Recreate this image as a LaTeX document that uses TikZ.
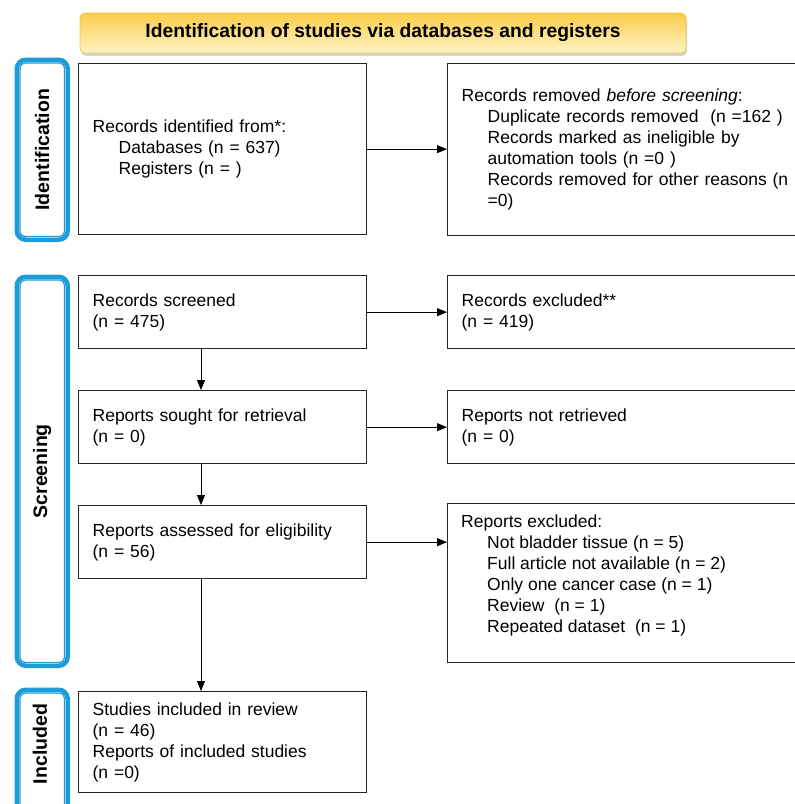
\documentclass[tikz,border=0pt]{standalone}
\usepackage{fontspec}
\setmainfont{Liberation Sans}
\usetikzlibrary{arrows.meta, positioning, shadows}
\definecolor{sideblue}{RGB}{28,156,216}
\definecolor{hdrtop}{RGB}{250,204,72}
\definecolor{hdrbot}{RGB}{255,244,200}
\newcommand{\prfont}{\fontsize{17.5}{21}\selectfont}
\newcommand{\sidefont}{\fontsize{19.5}{22}\selectfont\bfseries}
\newcommand{\ind}{\hspace*{26pt}}
\tikzset{
  prbox/.style={rectangle, draw=black!85, line width=1.3pt, fill=white,
                align=left, inner xsep=14pt, inner ysep=0pt, font=\prfont,
                anchor=north west},
  lbox/.style={prbox, text width=260pt},
  rbox/.style={prbox, text width=335pt},
  prtext/.style={align=left, inner sep=0pt, font=\prfont},
  sidebar/.style={rectangle, rounded corners=9pt, draw=sideblue,
                  line width=4.5pt, fill=white, minimum width=51pt,
                  anchor=north west},
  sideinner/.style={draw=sideblue, line width=1.2pt, rounded corners=5pt},
  sidelabel/.style={rotate=90, font=\sidefont},
  hdrbox/.style={rectangle, rounded corners=5pt, draw=hdrtop!90!orange,
                 line width=0.8pt, top color=hdrtop, bottom color=hdrbot,
                 minimum width=606pt, minimum height=40pt,
                 font=\fontsize{19.3}{22}\selectfont\bfseries,
                 drop shadow={shadow xshift=1pt, shadow yshift=-3pt,
                              opacity=0.35}},
  prarrow/.style={-{Triangle[length=10pt,width=8pt]}, line width=0.8pt},
}
\begin{document}
\begin{tikzpicture}[x=1pt, y=-1pt]
  \clip (0,0) rectangle (795,804);
  % header
  \node[hdrbox] (hdr) at (383,33)
    {Identification of studies via databases and registers};
  % phase bars
  \node[sidebar, minimum height=180pt] (idbar) at (14.5,57.5) {};
  \node[sidebar, minimum height=389pt] (scrbar) at (14.5,274.5) {};
  \node[sidebar, minimum height=140pt] (incbar) at (14.5,687.5) {};
  \foreach \b in {idbar, scrbar, incbar}
    \draw[sideinner] ([shift={(5.5,5.5)}]\b.north west)
      rectangle ([shift={(-5.5,-5.5)}]\b.south east);
  \node[sidelabel] (idlab) at (idbar.center) {Identification};
  \node[sidelabel] (scrlab) at (scrbar.center) {Screening};
  \node[sidelabel] (inclab) at (40,744) {Included};
  % identification
  \node[lbox, minimum height=171pt] (ident) at (78,63)
    {Records identified from*:\\
     \ind Databases (n = 637)\\
     \ind Registers (n = )};
  \node[rbox, minimum height=172pt] (removed) at (447,63)
    {Records removed \textit{before screening}:\\
     \ind Duplicate records removed~~(n =162 )\\
     \ind Records marked as ineligible by\\
     \ind automation tools (n =0 )\\
     \ind Records removed for other reasons (n\\
     \ind =0)};
  % screening
  \node[lbox, minimum height=73pt] (screened) at (78,275)
    {Records screened\\(n = 475)};
  \node[rbox, minimum height=73pt] (excluded) at (447,275)
    {Records excluded**\\(n = 419)};
  \node[lbox, minimum height=73pt] (sought) at (78,390)
    {Reports sought for retrieval\\(n = 0)};
  \node[rbox, minimum height=73pt] (notret) at (447,390)
    {Reports not retrieved\\(n = 0)};
  \node[lbox, minimum height=73pt] (assessed) at (78,505)
    {Reports assessed for eligibility\\(n = 56)};
  \node[rbox, minimum height=159pt] (exclrep) at (447,503) {};
  \node[prtext, anchor=north west] (exclreptxt)
    at ([shift={(14,12)}]exclrep.north west)
    {Reports excluded:\\
     \ind Not bladder tissue (n = 5)\\
     \ind Full article not available (n = 2)\\
     \ind Only one cancer case (n = 1)\\
     \ind Review~~(n = 1)\\
     \ind Repeated dataset~~(n = 1)};
  % included
  \node[lbox, minimum height=101pt] (included) at (78,691)
    {Studies included in review\\
     (n = 46)\\
     Reports of included studies\\
     (n =0)};
  % connectors
  \coordinate (spine) at (201,0);
  \draw[prarrow] (ident.east) -- (ident.east -| removed.west);
  \draw[prarrow] (screened.east) -- (screened.east -| excluded.west);
  \draw[prarrow] (sought.east) -- (sought.east -| notret.west);
  \draw[prarrow] (assessed.east) -- (assessed.east -| exclrep.west);
  \draw[prarrow] (screened.south -| spine) -- (sought.north -| spine);
  \draw[prarrow] (sought.south -| spine) -- (assessed.north -| spine);
  \draw[prarrow] (assessed.south -| spine) -- (included.north -| spine);
\end{tikzpicture}
\end{document}
